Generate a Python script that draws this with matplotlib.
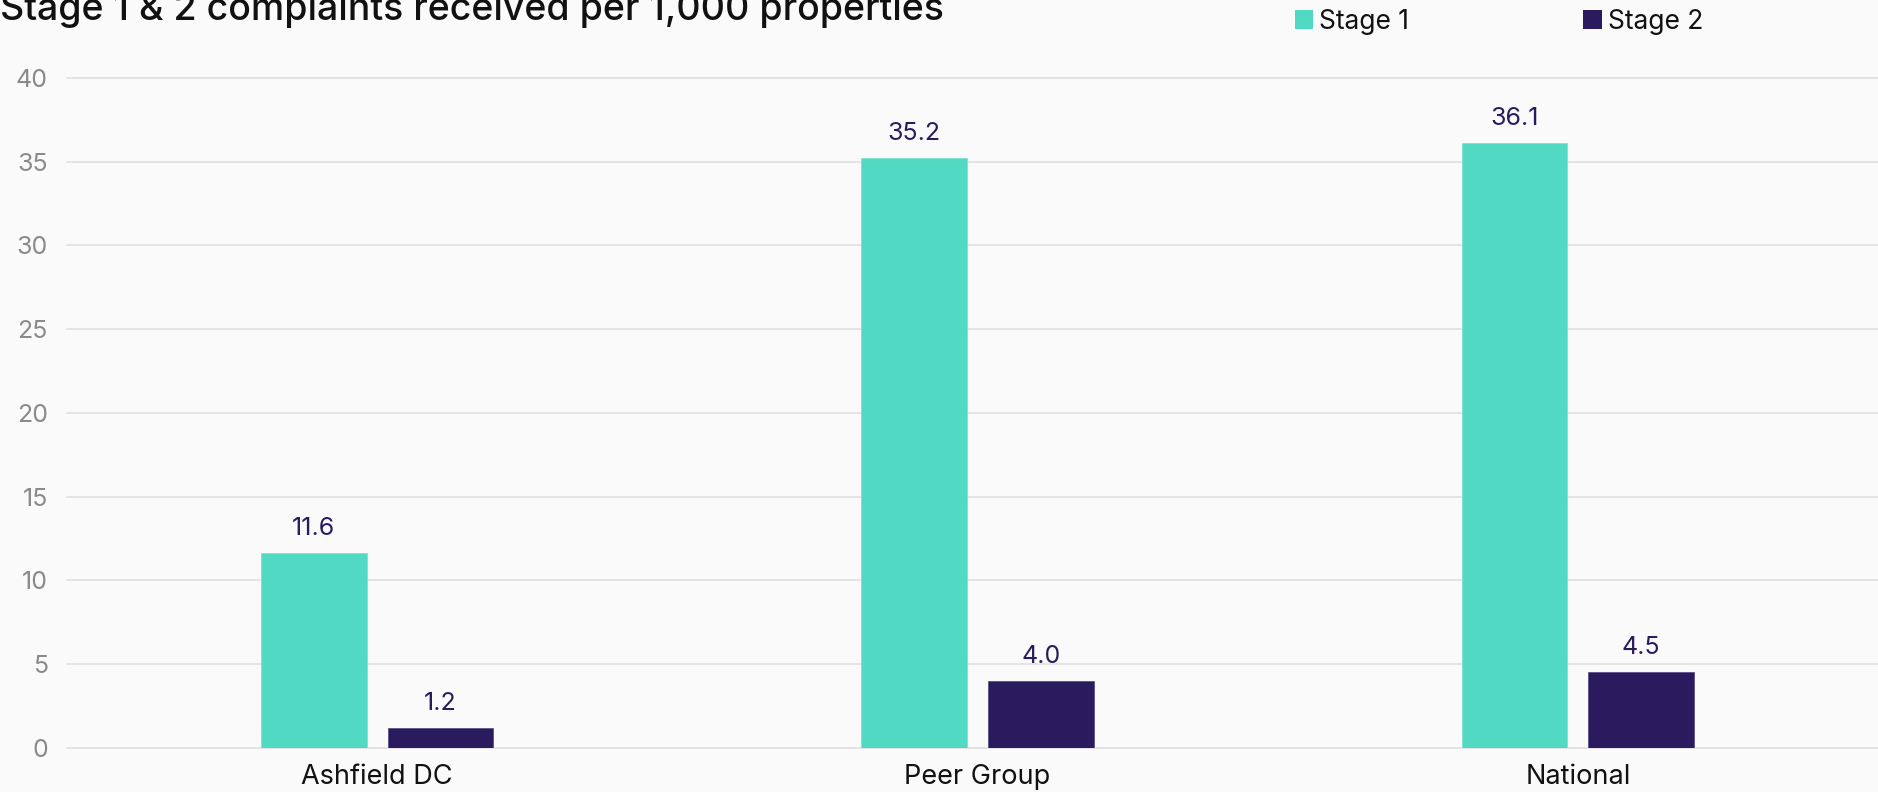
import matplotlib
matplotlib.use("Agg")
import matplotlib.pyplot as plt
from matplotlib.patches import Patch
import numpy as np

categories = ["Ashfield DC", "Peer Group", "National"]
stage1 = [11.6, 35.2, 36.1]
stage2 = [1.2, 4.0, 4.5]
series_names = ["Stage 1", "Stage 2"]
y_ticks = [0, 5, 10, 15, 20, 25, 30, 35, 40]

TEAL = "#52d9c3"
NAVY = "#2a1a5e"
BG = "#fafafa"
GRID = "#dedede"

plt.rcParams["font.family"] = ["Inter", "DejaVu Sans"]

W, H, DPI = 1878, 792, 100
fig = plt.figure(figsize=(W / DPI, H / DPI), dpi=DPI, facecolor=BG)
ax = fig.add_axes([77 / W, (H - 747.7) / H, 1 - 77 / W, (747.7 - 78) / H])
ax.set_facecolor(BG)

x = np.arange(len(categories))
width = 0.1757
offset = 0.1054
b1 = ax.bar(x - offset, stage1, width, color=TEAL, edgecolor="#7fe3d3", linewidth=0.6, zorder=3)
b2 = ax.bar(x + offset, stage2, width, color=NAVY, edgecolor="#5c5088", linewidth=0.6, zorder=3)

for bars, vals in ((b1, stage1), (b2, stage2)):
    for rect, v in zip(bars, vals):
        ax.annotate(f"{v:.1f}", (rect.get_x() + rect.get_width() / 2, v),
                    xytext=(0, 13), textcoords="offset points",
                    ha="center", va="baseline", fontsize=18, color=NAVY)

ax.set_xlim(-0.5, 2.5)
ax.set_ylim(0, 40)
ax.set_yticks(y_ticks)
ax.set_xticks(x)
ax.set_xticklabels(categories)
for yv in y_ticks:
    ax.axhline(yv, xmin=-10 / 1801, xmax=1, color=GRID, linewidth=1.1, zorder=1, clip_on=False)

for s in ax.spines.values():
    s.set_visible(False)
ax.tick_params(axis="y", length=0, pad=21, labelsize=18, labelcolor="#8a8a8a")
ax.tick_params(axis="x", length=0, pad=12, labelsize=19.5, labelcolor="#111111")

fig.text(0, 1 - 20 / H, "Stage 1 & 2 complaints received per 1,000 properties",
         ha="left", va="baseline", fontsize=27, fontweight="medium", color="#111111")

handles = [Patch(facecolor=TEAL), Patch(facecolor=NAVY)]
fig.legend(handles, series_names, loc="center left", bbox_to_anchor=(1295 / W, 1 - 22 / H),
           ncol=2, frameon=False, fontsize=19, handlelength=0.7, handleheight=0.75,
           handletextpad=0.22, columnspacing=6.6, borderpad=0, borderaxespad=0,
           labelcolor="#111111")

fig.savefig("out.png", dpi=DPI, facecolor=BG)
